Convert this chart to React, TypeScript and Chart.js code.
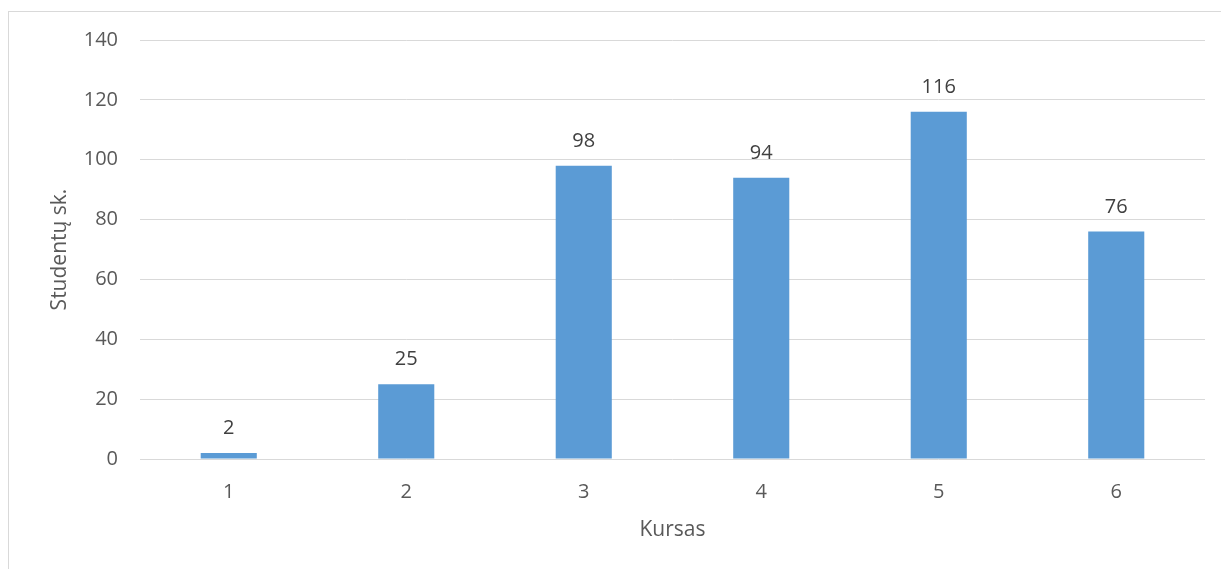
import React, { useEffect, useRef } from "react";
import { Chart, registerables } from "chart.js";

Chart.register(...registerables);

const categories = ["1", "2", "3", "4", "5", "6"];
const students = [2, 25, 98, 94, 116, 76];
const yTitle = "Studentų sk.";
const xTitle = "Kursas";

const FONT = "'Open Sans', 'Noto Sans', sans-serif";

const valueLabels = {
  id: "valueLabels",
  afterDatasetsDraw(chart: any) {
    const ctx = chart.ctx;
    const meta = chart.getDatasetMeta(0);
    ctx.save();
    ctx.font = `20px ${FONT}`;
    ctx.fillStyle = "#404040";
    ctx.textAlign = "center";
    ctx.textBaseline = "alphabetic";
    meta.data.forEach((bar: any, i: number) => {
      ctx.fillText(String(students[i]), bar.x, bar.y - 19);
    });
    ctx.restore();
  },
};

export default function App() {
  const ref = useRef<HTMLCanvasElement | null>(null);
  useEffect(() => {
    if (!ref.current) return;
    const chart = new Chart(ref.current, {
      type: "bar",
      data: {
        labels: categories,
        datasets: [
          {
            data: students,
            backgroundColor: "#5B9BD5",
            barPercentage: 1,
            categoryPercentage: 0.316,
          },
        ],
      },
      options: {
        animation: false,
        responsive: true,
        maintainAspectRatio: false,
        layout: { padding: { top: 28, right: 16, left: 0, bottom: 0 } },
        plugins: { legend: { display: false }, tooltip: { enabled: false } },
        scales: {
          x: {
            grid: { display: false },
            border: { display: false },
            ticks: { color: "#595959", font: { family: FONT, size: 20 }, padding: 13 },
            title: {
              display: true,
              text: xTitle,
              color: "#595959",
              font: { family: FONT, size: 21 },
              padding: { top: 0, bottom: 26 },
            },
            afterFit(scale: any) {
              scale.height = 110;
              scale.paddingLeft = 0;
              scale.paddingRight = 0;
            },
          },
          y: {
            min: 0,
            max: 140,
            ticks: { stepSize: 20, color: "#595959", font: { family: FONT, size: 20 }, padding: 22 },
            grid: { color: "#d9d9d9", lineWidth: 1, drawTicks: false },
            border: { display: false },
            title: {
              display: true,
              text: yTitle,
              color: "#595959",
              font: { family: FONT, size: 21 },
              padding: { top: 38, bottom: 0 },
            },
            afterFit(scale: any) {
              scale.width = 131;
              scale.paddingTop = 0;
              scale.paddingBottom = 0;
            },
          },
        },
      },
      plugins: [valueLabels],
    });
    return () => chart.destroy();
  }, []);

  return (
    <div
      style={{
        position: "fixed",
        left: 8,
        top: 11,
        width: 1213,
        height: 558,
        borderLeft: "1px solid #d9d9d9",
        borderTop: "1px solid #d9d9d9",
        boxSizing: "border-box",
        background: "#fff",
      }}
    >
      <div style={{ position: "relative", width: "100%", height: "100%" }}>
        <canvas ref={ref} />
      </div>
    </div>
  );
}
